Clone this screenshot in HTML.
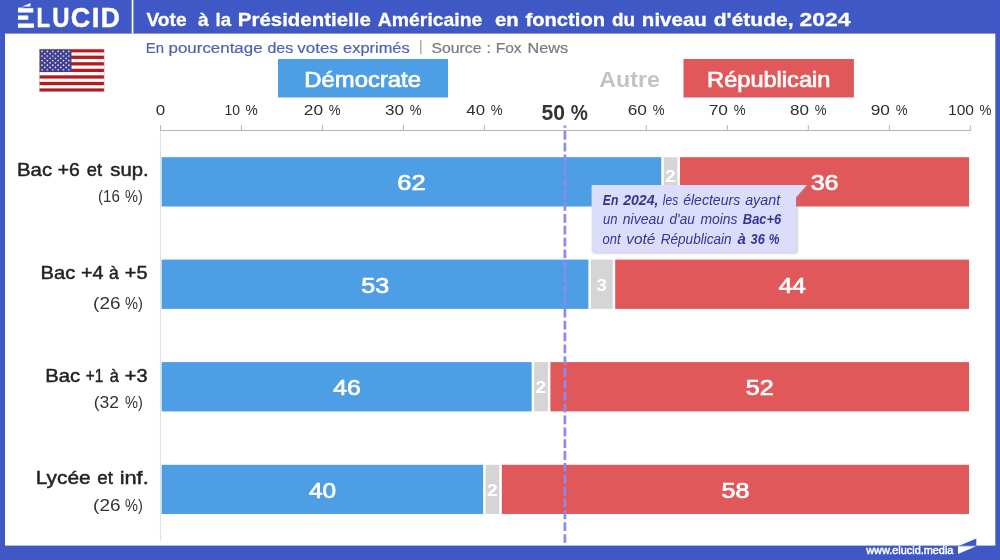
<!DOCTYPE html>
<html lang="fr"><head><meta charset="utf-8"><title>Vote à la Présidentielle Américaine en fonction du niveau d'étude, 2024</title>
<style>
html,body{margin:0;padding:0;background:#fff;}
body{width:1000px;height:560px;overflow:hidden;font-family:"Liberation Sans",sans-serif;}
svg{display:block}
text{font-family:"Liberation Sans",sans-serif;}
.b{font-weight:bold}
.i{font-style:italic}
</style></head><body>
<svg width="1000" height="560" viewBox="0 0 1000 560">
<defs><filter id="sh" x="-5%" y="-10%" width="115%" height="130%"><feGaussianBlur stdDeviation="1.2"/></filter></defs>
<rect x="0" y="0" width="1000" height="560" fill="#fff"/>

<rect x="0" y="0" width="1000" height="33.6" fill="#3f58c6"/>
<rect x="0" y="0" width="5" height="560" fill="#3f58c6"/>
<rect x="995.3" y="0" width="4.7" height="560" fill="#3f58c6"/>
<rect x="0" y="545.6" width="1000" height="14.4" fill="#3f58c6"/>
<rect x="131.7" y="0" width="1.7" height="33.6" fill="#fff"/>
<text y="27.45" font-size="27.3" class="b" fill="#fff" stroke="#fff" stroke-width="0.45"><tspan x="8.76" y="26.95" font-size="25.8" stroke-width="1.3" textLength="25.81" lengthAdjust="spacingAndGlyphs">É</tspan><tspan x="36.44" y="27.45" textLength="13.51" lengthAdjust="spacingAndGlyphs">L</tspan><tspan x="52.20" y="27.45" textLength="17.27" lengthAdjust="spacingAndGlyphs">U</tspan><tspan x="70.68" y="27.45" textLength="19.51" lengthAdjust="spacingAndGlyphs">C</tspan><tspan x="91.78" y="27.45" textLength="7.73" lengthAdjust="spacingAndGlyphs">I</tspan><tspan x="100.67" y="27.45" textLength="19.12" lengthAdjust="spacingAndGlyphs">D</tspan></text>
<rect x="6" y="0" width="11.95" height="33" fill="#3f58c6"/><rect x="28.3" y="14" width="8" height="8" fill="#3f58c6"/><rect x="16" y="0" width="18" height="7.6" fill="#3f58c6"/>
<path d="M22.1,6.6 L30.7,2.9 L30.3,6.6 Z" fill="#fff"/>
<text y="25.6" font-size="19.0" class="b" fill="#fff" stroke="#fff" stroke-width="0.3"><tspan x="146.45" textLength="40.18" lengthAdjust="spacingAndGlyphs">Vote</tspan> <tspan x="197.95" textLength="10.68" lengthAdjust="spacingAndGlyphs">à</tspan> <tspan x="215.48" textLength="15.65" lengthAdjust="spacingAndGlyphs">la</tspan> <tspan x="237.87" textLength="132.89" lengthAdjust="spacingAndGlyphs">Présidentielle</tspan> <tspan x="377.85" textLength="104.49" lengthAdjust="spacingAndGlyphs">Américaine</tspan> <tspan x="494.91" textLength="23.82" lengthAdjust="spacingAndGlyphs">en</tspan> <tspan x="525.43" textLength="79.69" lengthAdjust="spacingAndGlyphs">fonction</tspan> <tspan x="611.96" textLength="23.10" lengthAdjust="spacingAndGlyphs">du</tspan> <tspan x="641.87" textLength="64.99" lengthAdjust="spacingAndGlyphs">niveau</tspan> <tspan x="713.69" textLength="79.90" lengthAdjust="spacingAndGlyphs">d'étude,</tspan> <tspan x="799.64" textLength="50.87" lengthAdjust="spacingAndGlyphs">2024</tspan></text>
<text y="52.6" font-size="14.7" fill="#5263ae" stroke="#5263ae" stroke-width="0.2"><tspan x="145.74" textLength="18.20" lengthAdjust="spacingAndGlyphs">En</tspan> <tspan x="168.54" textLength="94.04" lengthAdjust="spacingAndGlyphs">pourcentage</tspan> <tspan x="267.40" textLength="25.80" lengthAdjust="spacingAndGlyphs">des</tspan> <tspan x="297.30" textLength="40.63" lengthAdjust="spacingAndGlyphs">votes</tspan> <tspan x="343.09" textLength="66.63" lengthAdjust="spacingAndGlyphs">exprimés</tspan></text>
<text x="418.9" y="51.4" font-size="14" fill="#999">|</text>
<text y="52.6" font-size="14.7" fill="#7a7a7a" stroke="#7a7a7a" stroke-width="0.2"><tspan x="431.51" textLength="50.03" lengthAdjust="spacingAndGlyphs">Source</tspan> <tspan x="486.27" textLength="5.08" lengthAdjust="spacingAndGlyphs">:</tspan> <tspan x="495.69" textLength="25.91" lengthAdjust="spacingAndGlyphs">Fox</tspan> <tspan x="527.53" textLength="40.57" lengthAdjust="spacingAndGlyphs">News</tspan></text>
<g><rect x="39.4" y="49.1" width="64.7" height="42.6" fill="#fff"/>
<rect x="39.4" y="49.10" width="64.7" height="3.28" fill="#b5191c"/>
<rect x="39.4" y="55.65" width="64.7" height="3.28" fill="#b5191c"/>
<rect x="39.4" y="62.21" width="64.7" height="3.28" fill="#b5191c"/>
<rect x="39.4" y="68.76" width="64.7" height="3.28" fill="#b5191c"/>
<rect x="39.4" y="75.32" width="64.7" height="3.28" fill="#b5191c"/>
<rect x="39.4" y="81.87" width="64.7" height="3.28" fill="#b5191c"/>
<rect x="39.4" y="88.42" width="64.7" height="3.28" fill="#b5191c"/>
<rect x="39.4" y="49.1" width="32.1" height="22.94" fill="#413e8e"/>
<circle cx="42.07" cy="51.39" r="0.85" fill="#e4e0f4"/>
<circle cx="47.42" cy="51.39" r="0.85" fill="#e4e0f4"/>
<circle cx="52.77" cy="51.39" r="0.85" fill="#e4e0f4"/>
<circle cx="58.12" cy="51.39" r="0.85" fill="#e4e0f4"/>
<circle cx="63.48" cy="51.39" r="0.85" fill="#e4e0f4"/>
<circle cx="68.83" cy="51.39" r="0.85" fill="#e4e0f4"/>
<circle cx="44.75" cy="53.69" r="0.85" fill="#e4e0f4"/>
<circle cx="50.10" cy="53.69" r="0.85" fill="#e4e0f4"/>
<circle cx="55.45" cy="53.69" r="0.85" fill="#e4e0f4"/>
<circle cx="60.80" cy="53.69" r="0.85" fill="#e4e0f4"/>
<circle cx="66.15" cy="53.69" r="0.85" fill="#e4e0f4"/>
<circle cx="42.07" cy="55.98" r="0.85" fill="#e4e0f4"/>
<circle cx="47.42" cy="55.98" r="0.85" fill="#e4e0f4"/>
<circle cx="52.77" cy="55.98" r="0.85" fill="#e4e0f4"/>
<circle cx="58.12" cy="55.98" r="0.85" fill="#e4e0f4"/>
<circle cx="63.48" cy="55.98" r="0.85" fill="#e4e0f4"/>
<circle cx="68.83" cy="55.98" r="0.85" fill="#e4e0f4"/>
<circle cx="44.75" cy="58.28" r="0.85" fill="#e4e0f4"/>
<circle cx="50.10" cy="58.28" r="0.85" fill="#e4e0f4"/>
<circle cx="55.45" cy="58.28" r="0.85" fill="#e4e0f4"/>
<circle cx="60.80" cy="58.28" r="0.85" fill="#e4e0f4"/>
<circle cx="66.15" cy="58.28" r="0.85" fill="#e4e0f4"/>
<circle cx="42.07" cy="60.57" r="0.85" fill="#e4e0f4"/>
<circle cx="47.42" cy="60.57" r="0.85" fill="#e4e0f4"/>
<circle cx="52.77" cy="60.57" r="0.85" fill="#e4e0f4"/>
<circle cx="58.12" cy="60.57" r="0.85" fill="#e4e0f4"/>
<circle cx="63.48" cy="60.57" r="0.85" fill="#e4e0f4"/>
<circle cx="68.83" cy="60.57" r="0.85" fill="#e4e0f4"/>
<circle cx="44.75" cy="62.86" r="0.85" fill="#e4e0f4"/>
<circle cx="50.10" cy="62.86" r="0.85" fill="#e4e0f4"/>
<circle cx="55.45" cy="62.86" r="0.85" fill="#e4e0f4"/>
<circle cx="60.80" cy="62.86" r="0.85" fill="#e4e0f4"/>
<circle cx="66.15" cy="62.86" r="0.85" fill="#e4e0f4"/>
<circle cx="42.07" cy="65.16" r="0.85" fill="#e4e0f4"/>
<circle cx="47.42" cy="65.16" r="0.85" fill="#e4e0f4"/>
<circle cx="52.77" cy="65.16" r="0.85" fill="#e4e0f4"/>
<circle cx="58.12" cy="65.16" r="0.85" fill="#e4e0f4"/>
<circle cx="63.48" cy="65.16" r="0.85" fill="#e4e0f4"/>
<circle cx="68.83" cy="65.16" r="0.85" fill="#e4e0f4"/>
<circle cx="44.75" cy="67.45" r="0.85" fill="#e4e0f4"/>
<circle cx="50.10" cy="67.45" r="0.85" fill="#e4e0f4"/>
<circle cx="55.45" cy="67.45" r="0.85" fill="#e4e0f4"/>
<circle cx="60.80" cy="67.45" r="0.85" fill="#e4e0f4"/>
<circle cx="66.15" cy="67.45" r="0.85" fill="#e4e0f4"/>
<circle cx="42.07" cy="69.74" r="0.85" fill="#e4e0f4"/>
<circle cx="47.42" cy="69.74" r="0.85" fill="#e4e0f4"/>
<circle cx="52.77" cy="69.74" r="0.85" fill="#e4e0f4"/>
<circle cx="58.12" cy="69.74" r="0.85" fill="#e4e0f4"/>
<circle cx="63.48" cy="69.74" r="0.85" fill="#e4e0f4"/>
<circle cx="68.83" cy="69.74" r="0.85" fill="#e4e0f4"/>
<rect x="39.4" y="49.1" width="64.7" height="42.6" fill="none" stroke="#c9b0b0" stroke-width="0.5"/></g>
<rect x="278" y="59" width="170" height="38.5" fill="#4e9ee6"/>
<text x="304.29" y="86.8" font-size="21.8" fill="#fff" stroke="#fff" stroke-width="0.7" textLength="116.73" lengthAdjust="spacingAndGlyphs">Démocrate</text>
<rect x="683.5" y="59" width="170.4" height="38.5" fill="#e1585b"/>
<text x="707.11" y="86.8" font-size="21.8" fill="#fff" stroke="#fff" stroke-width="0.7" textLength="123.27" lengthAdjust="spacingAndGlyphs">Républicain</text>
<text x="599.34" y="86.8" font-size="22.2" class="b" fill="#c3c3c3" textLength="60.54" lengthAdjust="spacingAndGlyphs">Autre</text>
<line x1="160.4" y1="130.5" x2="970.8" y2="130.5" stroke="#b4b4b4" stroke-width="1"/>
<text x="155.77" y="115.4" font-size="14.7" fill="#2e2e2e" textLength="9.45" lengthAdjust="spacingAndGlyphs">0</text>
<line x1="241.4" y1="125" x2="241.4" y2="130.4" stroke="#b4b4b4" stroke-width="1"/>
<text y="115.4" font-size="14.7" fill="#2e2e2e"><tspan x="224.62" textLength="15.52" lengthAdjust="spacingAndGlyphs">10</tspan> <tspan x="245.46" textLength="12.24" lengthAdjust="spacingAndGlyphs">%</tspan></text>
<line x1="322.4" y1="125" x2="322.4" y2="130.4" stroke="#b4b4b4" stroke-width="1"/>
<text y="115.4" font-size="14.7" fill="#2e2e2e"><tspan x="303.77" textLength="19.24" lengthAdjust="spacingAndGlyphs">20</tspan> <tspan x="328.76" textLength="11.81" lengthAdjust="spacingAndGlyphs">%</tspan></text>
<line x1="403.4" y1="125" x2="403.4" y2="130.4" stroke="#b4b4b4" stroke-width="1"/>
<text y="115.4" font-size="14.7" fill="#2e2e2e"><tspan x="385.04" textLength="18.96" lengthAdjust="spacingAndGlyphs">30</tspan> <tspan x="409.75" textLength="11.81" lengthAdjust="spacingAndGlyphs">%</tspan></text>
<line x1="484.4" y1="125" x2="484.4" y2="130.4" stroke="#b4b4b4" stroke-width="1"/>
<text y="115.4" font-size="14.7" fill="#2e2e2e"><tspan x="466.30" textLength="18.68" lengthAdjust="spacingAndGlyphs">40</tspan> <tspan x="490.74" textLength="11.81" lengthAdjust="spacingAndGlyphs">%</tspan></text>
<text y="119.6" font-size="21.2" class="b" fill="#333"><tspan x="541.57" textLength="23.49" lengthAdjust="spacingAndGlyphs">50</tspan> <tspan x="570.70" textLength="17.07" lengthAdjust="spacingAndGlyphs">%</tspan></text>
<line x1="646.3" y1="125" x2="646.3" y2="130.4" stroke="#b4b4b4" stroke-width="1"/>
<text y="115.4" font-size="14.7" fill="#2e2e2e"><tspan x="627.73" textLength="19.24" lengthAdjust="spacingAndGlyphs">60</tspan> <tspan x="652.72" textLength="11.81" lengthAdjust="spacingAndGlyphs">%</tspan></text>
<line x1="727.3" y1="125" x2="727.3" y2="130.4" stroke="#b4b4b4" stroke-width="1"/>
<text y="115.4" font-size="14.7" fill="#2e2e2e"><tspan x="708.72" textLength="19.24" lengthAdjust="spacingAndGlyphs">70</tspan> <tspan x="733.71" textLength="11.81" lengthAdjust="spacingAndGlyphs">%</tspan></text>
<line x1="808.3" y1="125" x2="808.3" y2="130.4" stroke="#b4b4b4" stroke-width="1"/>
<text y="115.4" font-size="14.7" fill="#2e2e2e"><tspan x="789.99" textLength="18.96" lengthAdjust="spacingAndGlyphs">80</tspan> <tspan x="814.70" textLength="11.81" lengthAdjust="spacingAndGlyphs">%</tspan></text>
<line x1="889.3" y1="125" x2="889.3" y2="130.4" stroke="#b4b4b4" stroke-width="1"/>
<text y="115.4" font-size="14.7" fill="#2e2e2e"><tspan x="870.70" textLength="19.24" lengthAdjust="spacingAndGlyphs">90</tspan> <tspan x="895.69" textLength="11.81" lengthAdjust="spacingAndGlyphs">%</tspan></text>
<line x1="970.3" y1="125" x2="970.3" y2="130.4" stroke="#b4b4b4" stroke-width="1"/>
<text y="115.4" font-size="14.7" fill="#2e2e2e"><tspan x="948.03" textLength="25.96" lengthAdjust="spacingAndGlyphs">100</tspan> <tspan x="979.58" textLength="11.92" lengthAdjust="spacingAndGlyphs">%</tspan></text>
<rect x="160.4" y="157.2" width="502.1" height="49.3" fill="#4e9ee6"/>
<rect x="662.5" y="157.2" width="16.2" height="49.3" fill="#d5d5d5"/>
<rect x="678.7" y="157.2" width="291.6" height="49.3" fill="#e1585b"/>
<rect x="159.15" y="156.2" width="2.5" height="51.3" fill="#fff"/>
<rect x="661.29" y="156.2" width="2.5" height="51.3" fill="#fff"/>
<rect x="677.49" y="156.2" width="2.5" height="51.3" fill="#fff"/>
<rect x="969.05" y="156.2" width="2.5" height="51.3" fill="#fff"/>
<text y="175.9" font-size="18.6" fill="#222" stroke="#222" stroke-width="0.45"><tspan x="17.04" textLength="35.06" lengthAdjust="spacingAndGlyphs">Bac</tspan> <tspan x="57.72" textLength="22.04" lengthAdjust="spacingAndGlyphs">+6</tspan> <tspan x="86.85" textLength="15.26" lengthAdjust="spacingAndGlyphs">et</tspan> <tspan x="110.31" textLength="38.30" lengthAdjust="spacingAndGlyphs">sup.</tspan></text>
<text y="201.8" font-size="16.2" fill="#333"><tspan x="98.10" textLength="21.71" lengthAdjust="spacingAndGlyphs">(16</tspan> <tspan x="125.04" textLength="17.81" lengthAdjust="spacingAndGlyphs">%)</tspan></text>
<rect x="160.4" y="259.6" width="429.2" height="49.3" fill="#4e9ee6"/>
<rect x="589.6" y="259.6" width="24.3" height="49.3" fill="#d5d5d5"/>
<rect x="613.9" y="259.6" width="356.4" height="49.3" fill="#e1585b"/>
<rect x="159.15" y="258.6" width="2.5" height="51.3" fill="#fff"/>
<rect x="588.40" y="258.6" width="2.5" height="51.3" fill="#fff"/>
<rect x="612.69" y="258.6" width="2.5" height="51.3" fill="#fff"/>
<rect x="969.05" y="258.6" width="2.5" height="51.3" fill="#fff"/>
<text y="279.0" font-size="18.6" fill="#222" stroke="#222" stroke-width="0.45"><tspan x="40.55" textLength="34.74" lengthAdjust="spacingAndGlyphs">Bac</tspan> <tspan x="80.90" textLength="22.57" lengthAdjust="spacingAndGlyphs">+4</tspan> <tspan x="108.97" textLength="9.79" lengthAdjust="spacingAndGlyphs">à</tspan> <tspan x="124.89" textLength="22.69" lengthAdjust="spacingAndGlyphs">+5</tspan></text>
<text y="308.5" font-size="16.2" fill="#333"><tspan x="93.11" textLength="27.35" lengthAdjust="spacingAndGlyphs">(26</tspan> <tspan x="125.04" textLength="17.81" lengthAdjust="spacingAndGlyphs">%)</tspan></text>
<rect x="160.4" y="362.1" width="372.6" height="49.3" fill="#4e9ee6"/>
<rect x="533.0" y="362.1" width="16.2" height="49.3" fill="#d5d5d5"/>
<rect x="549.2" y="362.1" width="421.1" height="49.3" fill="#e1585b"/>
<rect x="159.15" y="361.1" width="2.5" height="51.3" fill="#fff"/>
<rect x="531.70" y="361.1" width="2.5" height="51.3" fill="#fff"/>
<rect x="547.90" y="361.1" width="2.5" height="51.3" fill="#fff"/>
<rect x="969.05" y="361.1" width="2.5" height="51.3" fill="#fff"/>
<text y="381.7" font-size="18.6" fill="#222" stroke="#222" stroke-width="0.45"><tspan x="45.24" textLength="34.95" lengthAdjust="spacingAndGlyphs">Bac</tspan> <tspan x="85.71" textLength="17.49" lengthAdjust="spacingAndGlyphs">+1</tspan> <tspan x="109.72" textLength="9.06" lengthAdjust="spacingAndGlyphs">à</tspan> <tspan x="124.89" textLength="22.69" lengthAdjust="spacingAndGlyphs">+3</tspan></text>
<text y="407.7" font-size="16.2" fill="#333"><tspan x="93.78" textLength="25.33" lengthAdjust="spacingAndGlyphs">(32</tspan> <tspan x="125.04" textLength="17.81" lengthAdjust="spacingAndGlyphs">%)</tspan></text>
<rect x="160.4" y="464.8" width="324.0" height="49.2" fill="#4e9ee6"/>
<rect x="484.4" y="464.8" width="16.2" height="49.2" fill="#d5d5d5"/>
<rect x="500.6" y="464.8" width="469.7" height="49.2" fill="#e1585b"/>
<rect x="159.15" y="463.8" width="2.5" height="51.2" fill="#fff"/>
<rect x="483.11" y="463.8" width="2.5" height="51.2" fill="#fff"/>
<rect x="499.31" y="463.8" width="2.5" height="51.2" fill="#fff"/>
<rect x="969.05" y="463.8" width="2.5" height="51.2" fill="#fff"/>
<text y="484.2" font-size="18.6" fill="#222" stroke="#222" stroke-width="0.45"><tspan x="35.79" textLength="54.93" lengthAdjust="spacingAndGlyphs">Lycée</tspan> <tspan x="97.24" textLength="15.67" lengthAdjust="spacingAndGlyphs">et</tspan> <tspan x="119.66" textLength="29.08" lengthAdjust="spacingAndGlyphs">inf.</tspan></text>
<text y="511.2" font-size="16.2" fill="#333"><tspan x="93.11" textLength="27.35" lengthAdjust="spacingAndGlyphs">(26</tspan> <tspan x="125.04" textLength="17.81" lengthAdjust="spacingAndGlyphs">%)</tspan></text>
<line x1="160.5" y1="130" x2="160.5" y2="540.7" stroke="#e2e2e2" stroke-width="1.2"/>
<line x1="160.5" y1="125" x2="160.5" y2="131" stroke="#b4b4b4" stroke-width="1"/>
<text x="397.23" y="190.2" font-size="21.4" fill="#fff" stroke="#fff" stroke-width="0.7" textLength="28.33" lengthAdjust="spacingAndGlyphs">62</text>
<text x="810.68" y="190.2" font-size="21.4" fill="#fff" stroke="#fff" stroke-width="0.7" textLength="27.90" lengthAdjust="spacingAndGlyphs">36</text>
<text x="665.14" y="181.6" font-size="16.8" class="b" fill="#fff" textLength="10.68" lengthAdjust="spacingAndGlyphs">2</text>
<text x="361.19" y="292.6" font-size="21.4" fill="#fff" stroke="#fff" stroke-width="0.7" textLength="27.90" lengthAdjust="spacingAndGlyphs">53</text>
<text x="778.69" y="292.6" font-size="21.4" fill="#fff" stroke="#fff" stroke-width="0.7" textLength="27.09" lengthAdjust="spacingAndGlyphs">44</text>
<text x="596.60" y="290.9" font-size="16.8" class="b" fill="#fff" textLength="10.35" lengthAdjust="spacingAndGlyphs">3</text>
<text x="333.24" y="395.1" font-size="21.4" fill="#fff" stroke="#fff" stroke-width="0.7" textLength="27.49" lengthAdjust="spacingAndGlyphs">46</text>
<text x="745.89" y="395.1" font-size="21.4" fill="#fff" stroke="#fff" stroke-width="0.7" textLength="27.90" lengthAdjust="spacingAndGlyphs">52</text>
<text x="535.55" y="393.4" font-size="16.8" class="b" fill="#fff" textLength="10.68" lengthAdjust="spacingAndGlyphs">2</text>
<text x="308.95" y="497.8" font-size="21.4" fill="#fff" stroke="#fff" stroke-width="0.7" textLength="27.09" lengthAdjust="spacingAndGlyphs">40</text>
<text x="721.60" y="497.8" font-size="21.4" fill="#fff" stroke="#fff" stroke-width="0.7" textLength="27.90" lengthAdjust="spacingAndGlyphs">58</text>
<text x="486.96" y="496.1" font-size="16.8" class="b" fill="#fff" textLength="10.68" lengthAdjust="spacingAndGlyphs">2</text>
<line x1="564.9" y1="125.6" x2="564.9" y2="542.7" stroke="#8d89ef" stroke-width="2.7" stroke-dasharray="8.8 3.06" stroke-dashoffset="6.56"/>
<path d="M593,187 H808 L797.6,198.5 V253.6 H593 Z" fill="#8484b4" opacity="0.42" filter="url(#sh)"/>
<path d="M591.6,184.9 H807 L796,197.4 V251.9 H591.6 Z" fill="#dcdcfb"/>
<text y="205.4" font-size="14.1" class="i" fill="#38358f"><tspan x="602.81" textLength="15.59" lengthAdjust="spacingAndGlyphs" class="b">En</tspan> <tspan x="623.22" textLength="35.23" lengthAdjust="spacingAndGlyphs" class="b">2024,</tspan> <tspan x="662.81" textLength="15.38" lengthAdjust="spacingAndGlyphs">les</tspan> <tspan x="683.16" textLength="57.06" lengthAdjust="spacingAndGlyphs">électeurs</tspan> <tspan x="745.18" textLength="34.93" lengthAdjust="spacingAndGlyphs">ayant</tspan></text>
<text y="224.3" font-size="14.1" class="i" fill="#38358f"><tspan x="602.99" textLength="14.54" lengthAdjust="spacingAndGlyphs">un</tspan> <tspan x="622.78" textLength="41.35" lengthAdjust="spacingAndGlyphs">niveau</tspan> <tspan x="669.58" textLength="25.15" lengthAdjust="spacingAndGlyphs">d'au</tspan> <tspan x="700.38" textLength="37.24" lengthAdjust="spacingAndGlyphs">moins</tspan> <tspan x="742.80" textLength="38.52" lengthAdjust="spacingAndGlyphs" class="b">Bac+6</tspan></text>
<text y="243.6" font-size="14.1" class="i" fill="#38358f"><tspan x="602.60" textLength="17.96" lengthAdjust="spacingAndGlyphs">ont</tspan> <tspan x="626.28" textLength="29.11" lengthAdjust="spacingAndGlyphs">voté</tspan> <tspan x="660.79" textLength="70.76" lengthAdjust="spacingAndGlyphs">Républicain</tspan> <tspan x="737.40" textLength="8.38" lengthAdjust="spacingAndGlyphs" class="b">à</tspan> <tspan x="750.60" textLength="14.32" lengthAdjust="spacingAndGlyphs" class="b">36</tspan> <tspan x="768.83" textLength="10.74" lengthAdjust="spacingAndGlyphs" class="b">%</tspan></text>
<text x="866.20" y="553.9" font-size="10.8" fill="#fff" stroke="#fff" stroke-width="0.45" textLength="87.21" lengthAdjust="spacingAndGlyphs">www.elucid.media</text>
<path d="M959.2,545.8 L976.3,538.4 V545.8 Z" fill="#3f58c6"/>
<path d="M958,546.2 H976 L958,554 Z" fill="#fff"/>
</svg></body></html>
